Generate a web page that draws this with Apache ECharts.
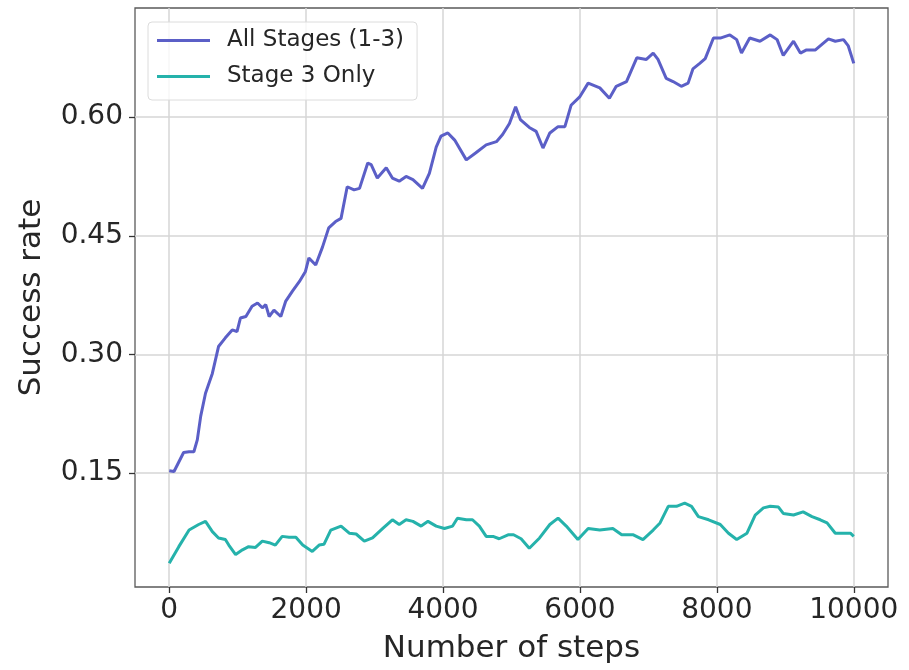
<!DOCTYPE html>
<html>
<head>
<meta charset="utf-8">
<script src="https://cdn.jsdelivr.net/npm/echarts@6/dist/echarts.min.js"></script>
<style>
	html, body { margin: 0; padding: 0; background: #fff; }
	#main { width: 909px; height: 670px; }
</style>
</head>
<body>
<div id="main"></div>
<script>
// x ticks / y ticks
var xTicks = [0, 2000, 4000, 6000, 8000, 10000];
var yTicks = [0.15, 0.30, 0.45, 0.60];

// All Stages (1-3)
var allSteps = [0, 70, 210, 290, 360, 410, 460, 530, 630, 720, 820, 920, 990, 1040, 1120, 1210, 1290, 1360, 1410, 1460,
	1530, 1630, 1700, 1800, 1900, 1990, 2040, 2140, 2240, 2330, 2430, 2510, 2600, 2700, 2780, 2900, 2950, 3040, 3170, 3260,
	3360, 3460, 3560, 3700, 3800, 3900, 3970, 4070, 4170, 4340, 4480, 4630, 4780, 4870, 4970, 5060, 5130, 5260, 5360, 5460,
	5560, 5680, 5780, 5870, 6000, 6120, 6290, 6430, 6530, 6680, 6830, 6970, 7070, 7140, 7260, 7360, 7480, 7580, 7650, 7750,
	7830, 7950, 8050, 8190, 8290, 8360, 8480, 8630, 8780, 8880, 8970, 9120, 9220, 9310, 9440, 9630, 9730, 9850, 9920, 10000];
var allRate = [0.153, 0.152, 0.176, 0.177, 0.177, 0.192, 0.222, 0.251, 0.276, 0.310, 0.321, 0.331, 0.329, 0.346, 0.348, 0.361, 0.365, 0.359, 0.363, 0.348,
	0.356, 0.348, 0.367, 0.380, 0.392, 0.405, 0.422, 0.413, 0.436, 0.460, 0.468, 0.472, 0.512, 0.508, 0.510, 0.542, 0.540, 0.523, 0.536, 0.523,
	0.519, 0.525, 0.521, 0.510, 0.529, 0.562, 0.576, 0.580, 0.571, 0.546, 0.555, 0.565, 0.569, 0.578, 0.592, 0.613, 0.597, 0.587, 0.582, 0.561,
	0.580, 0.588, 0.588, 0.615, 0.626, 0.643, 0.637, 0.624, 0.639, 0.645, 0.675, 0.673, 0.681, 0.673, 0.649, 0.645, 0.639, 0.643, 0.661, 0.668,
	0.674, 0.700, 0.700, 0.704, 0.698, 0.681, 0.700, 0.696, 0.704, 0.698, 0.678, 0.696, 0.681, 0.685, 0.685, 0.699, 0.696, 0.698, 0.690, 0.668];

// Stage 3 Only
var s3Steps = [0, 140, 290, 430, 530, 630, 720, 820, 870, 970, 1070, 1160, 1260, 1360, 1460, 1550, 1650, 1750, 1850, 1950,
	2090, 2190, 2260, 2360, 2510, 2630, 2730, 2850, 2970, 3120, 3260, 3360, 3460, 3560, 3680, 3780, 3900, 4020, 4140, 4210,
	4340, 4430, 4530, 4630, 4730, 4820, 4950, 5030, 5140, 5260, 5410, 5560, 5680, 5800, 5970, 6120, 6290, 6480, 6610, 6780,
	6920, 7070, 7170, 7290, 7410, 7530, 7630, 7730, 7880, 8050, 8170, 8290, 8440, 8560, 8680, 8780, 8900, 8970, 9120, 9260,
	9390, 9510, 9610, 9730, 9850, 9950, 10000];
var s3Rate = [0.036, 0.057, 0.078, 0.085, 0.089, 0.076, 0.068, 0.066, 0.059, 0.047, 0.053, 0.057, 0.056, 0.064, 0.062, 0.059, 0.070, 0.069, 0.069, 0.059,
	0.051, 0.059, 0.060, 0.078, 0.083, 0.074, 0.073, 0.064, 0.068, 0.080, 0.091, 0.085, 0.091, 0.089, 0.083, 0.089, 0.083, 0.080, 0.083, 0.093,
	0.091, 0.091, 0.083, 0.070, 0.070, 0.067, 0.072, 0.072, 0.067, 0.055, 0.068, 0.085, 0.093, 0.083, 0.066, 0.080, 0.078, 0.080, 0.072, 0.072,
	0.066, 0.078, 0.087, 0.108, 0.108, 0.112, 0.108, 0.095, 0.091, 0.085, 0.074, 0.066, 0.074, 0.097, 0.106, 0.108, 0.107, 0.099, 0.097, 0.101,
	0.095, 0.091, 0.087, 0.074, 0.074, 0.074, 0.070];

function zip(xs, ys) {
	var out = [];
	for (var i = 0; i < xs.length; i++) out.push([xs[i], ys[i]]);
	return out;
}

var font = 'DejaVu Sans';
var txt = '#262626';
var gridCol = '#d6d6d6';

var chart = echarts.init(document.getElementById('main'), null, { renderer: 'canvas' });
chart.setOption({
	animation: false,
	backgroundColor: '#fff',
	grid: {
		left: 135, right: 21, top: 8, bottom: 83,
		show: true, borderColor: '#5a5a5a', borderWidth: 1.3, backgroundColor: 'transparent'
	},
	legend: {
		orient: 'vertical',
		left: 148, top: 22,
		padding: [7, 13, 12, 9],
		itemGap: 13,
		icon: 'rect',
		itemWidth: 53, itemHeight: 3,
		borderColor: '#dcdcdc', borderWidth: 1, borderRadius: 4,
		backgroundColor: 'rgba(255,255,255,0.8)',
		textStyle: { fontFamily: font, fontSize: 23, color: txt, lineHeight: 22, padding: [0, 0, 0, 12] },
		data: ['All Stages (1-3)', 'Stage 3 Only']
	},
	xAxis: {
		type: 'value',
		min: -500, max: 10500,
		name: 'Number of steps',
		nameLocation: 'middle',
		nameGap: 46,
		nameTextStyle: { fontFamily: font, fontSize: 31, color: txt },
		axisLine: { show: false, onZero: false },
		axisTick: { show: true, inside: false, length: 6, customValues: xTicks, lineStyle: { color: '#333', width: 1.3 } },
		axisLabel: {
			customValues: xTicks, fontFamily: font, fontSize: 28, color: txt, margin: 10,
			formatter: function(v) { return String(v); }
		},
		splitLine: { show: true, lineStyle: { color: gridCol, width: 1.5 } }
	},
	yAxis: {
		type: 'value',
		min: 0.006, max: 0.738,
		name: 'Success rate',
		nameLocation: 'middle',
		nameGap: 88,
		nameTextStyle: { fontFamily: font, fontSize: 31, color: txt },
		axisLine: { show: false, onZero: false },
		axisTick: { show: true, inside: false, length: 6, customValues: yTicks, lineStyle: { color: '#333', width: 1.3 } },
		axisLabel: {
			customValues: yTicks, fontFamily: font, fontSize: 28, color: txt, margin: 12,
			formatter: function(v) { return v.toFixed(2); }
		},
		splitLine: { show: true, lineStyle: { color: gridCol, width: 1.5 } }
	},
	series: [{
		name: 'All Stages (1-3)',
		type: 'line',
		symbol: 'none',
		color: '#5b5fc7',
		lineStyle: { width: 3, color: '#5b5fc7' },
		data: zip(allSteps, allRate)
	}, {
		name: 'Stage 3 Only',
		type: 'line',
		symbol: 'none',
		color: '#25b2ab',
		lineStyle: { width: 3, color: '#25b2ab' },
		data: zip(s3Steps, s3Rate)
	}]
});
</script>
</body>
</html>
